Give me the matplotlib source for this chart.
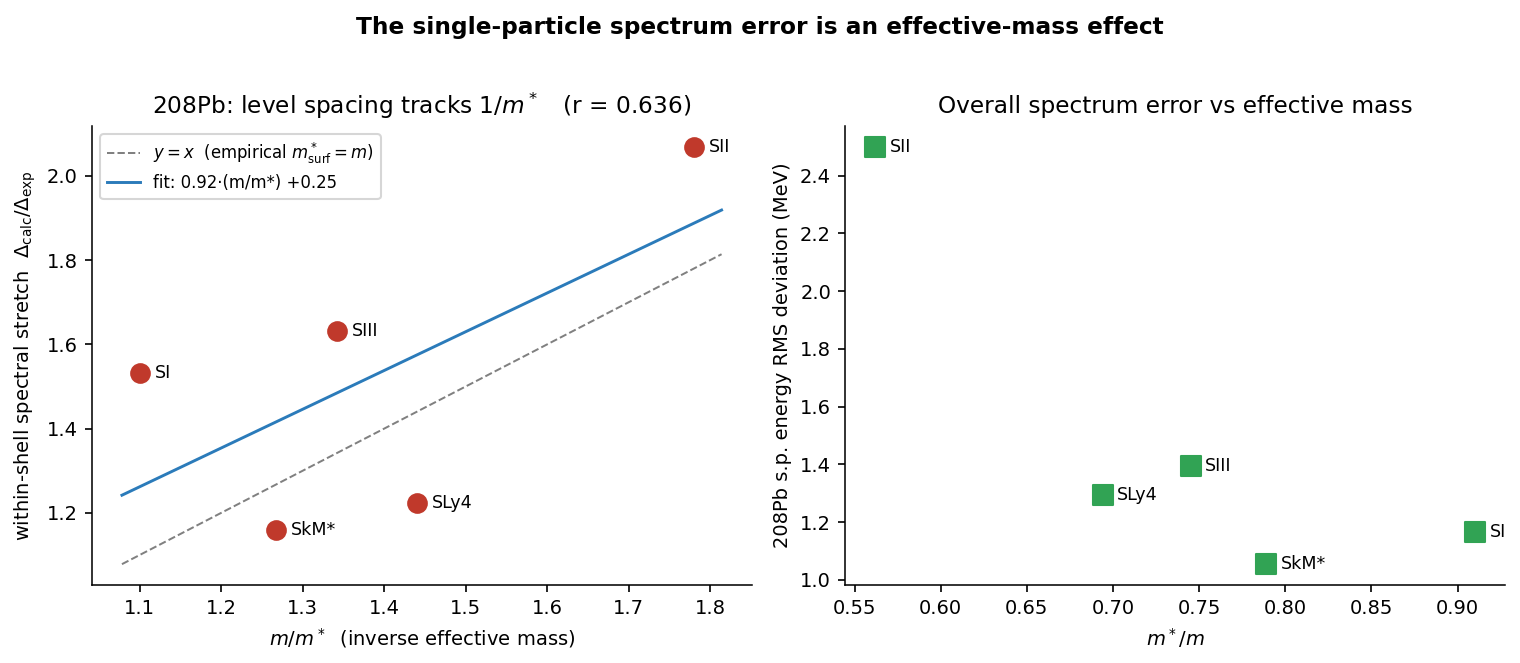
import numpy as np
import matplotlib
matplotlib.use("Agg")
import matplotlib.pyplot as plt

# Data
forces = ["SI", "SkM*", "SIII", "SLy4", "SII"]
mstar_over_m = np.array([0.91, 0.789, 0.745, 0.694, 0.562])
inv_mass = np.array([1.100, 1.267, 1.342, 1.440, 1.780])
stretch = np.array([1.532, 1.160, 1.632, 1.224, 2.069])
rms_dev = np.array([1.165, 1.054, 1.394, 1.294, 2.500])
fit_slope, fit_intercept = 0.92, 0.25
r_value = 0.636

red = "#c0392b"
green = "#31a354"
blue = "#2b7bba"

plt.rcParams["font.size"] = 9.35
plt.rcParams["xtick.major.size"] = 3.3
plt.rcParams["ytick.major.size"] = 3.3
plt.rcParams["axes.linewidth"] = 0.75

fig, (ax1, ax2) = plt.subplots(1, 2, figsize=(1520 / 150, 663 / 150), dpi=150)
fig.subplots_adjust(left=0.0605, right=0.990, bottom=0.1176, top=0.810, wspace=0.142)

# Left panel
xx = np.linspace(inv_mass.min() - 0.022, inv_mass.max() + 0.034, 50)
ax1.plot(xx, xx, ls="--", color="gray", lw=0.95,
         label=r"$y=x$  (empirical $m^*_{\rm surf}=m$)")
ax1.plot(xx, fit_slope * xx + fit_intercept, color=blue, lw=1.4,
         label=f"fit: {fit_slope:.2f}\u00b7(m/m*) +{fit_intercept:.2f}")
ax1.scatter(inv_mass, stretch, s=80, color=red, zorder=3)
for name, x, y in zip(forces, inv_mass, stretch):
    ax1.annotate(name, (x, y), xytext=(7, 0), textcoords="offset points",
                 va="center", fontsize=8.4)
ax1.set_xlabel(r"$m/m^*$  (inverse effective mass)")
ax1.set_ylabel(r"within-shell spectral stretch  $\Delta_{\rm calc}/\Delta_{\rm exp}$")
ax1.set_title(r"208Pb: level spacing tracks $1/m^*$   (r = " + f"{r_value:.3f})", fontsize=11.2)
ax1.legend(loc="upper left", fontsize=7.95)

# Right panel
ax2.scatter(mstar_over_m, rms_dev, s=90, marker="s", color=green, zorder=3)
for name, x, y in zip(forces, mstar_over_m, rms_dev):
    ax2.annotate(name, (x, y), xytext=(7, 0), textcoords="offset points",
                 va="center", fontsize=8.4)
ax2.set_xlabel(r"$m^*/m$")
ax2.set_ylabel("208Pb s.p. energy RMS deviation (MeV)")
ax2.set_title("Overall spectrum error vs effective mass", fontsize=11.2)

for ax in (ax1, ax2):
    ax.spines["top"].set_visible(False)
    ax.spines["right"].set_visible(False)

fig.suptitle("The single-particle spectrum error is an effective-mass effect",
             fontweight="bold", fontsize=11.2, y=0.976)

fig.savefig("out.png", dpi=150)
